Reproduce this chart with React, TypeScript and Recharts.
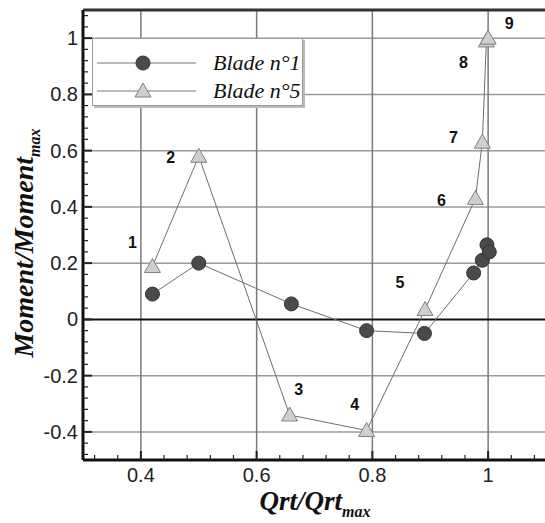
import { ScatterChart, Scatter, XAxis, YAxis, ReferenceLine } from "recharts";

// Qrt/Qrt_max and normalised moment
const qrtBlade1 = [0.42, 0.5, 0.66, 0.79, 0.89, 0.975, 0.99, 0.998, 1.002];
const momentBlade1 = [0.09, 0.2, 0.055, -0.04, -0.05, 0.165, 0.21, 0.265, 0.24];
const qrtBlade5 = [0.42, 0.5, 0.657, 0.79, 0.891, 0.978, 0.99, 0.997, 1.0];
const momentBlade5 = [0.188, 0.58, -0.34, -0.395, 0.035, 0.43, 0.63, 0.99, 1.0];
const pointNames = ["1", "2", "3", "4", "5", "6", "7", "8", "9"];

const xMajor = [0.4, 0.6, 0.8, 1];
const yMajor = [-0.4, -0.2, 0, 0.2, 0.4, 0.6, 0.8, 1];
const xMinor = Array.from({ length: 20 }, (_, i) => +(0.32 + i * 0.04).toFixed(2));
const yMinor = Array.from({ length: 40 }, (_, i) => +(-0.48 + i * 0.04).toFixed(2));

// pixel offsets of the point numbers from their triangles
const nameOffsets = [[-20, -24], [-28, 1], [9, -26], [-12, -26], [-25, -27], [-34, 2], [-29, -5], [-23, 22], [21, -15]];

const blade1 = qrtBlade1.map((x, i) => ({ x, y: momentBlade1[i] }));
const blade5 = qrtBlade5.map((x, i) => ({ x, y: momentBlade5[i], n: i }));

const SANS = "'Liberation Sans', Arial, sans-serif";
const SERIF = "'Liberation Serif', 'Times New Roman', serif";

const isMajor = (v: number) => Math.abs(v * 5 - Math.round(v * 5)) < 1e-6;

const XTick = ({ x, y, payload }: any) => {
  const major = isMajor(payload.value);
  return (
    <g>
      <line x1={x} x2={x} y1={y} y2={y - (major ? 9 : 5)} stroke="#222" strokeWidth={major ? 2 : 1.2} />
      {major && (
        <text x={x} y={y + 22} textAnchor="middle" fontSize={20} fontFamily={SANS} fill="#222">
          {String(payload.value)}
        </text>
      )}
    </g>
  );
};

const YTick = ({ x, y, payload }: any) => {
  const major = isMajor(payload.value);
  return (
    <g>
      <line x1={x} x2={x + (major ? 9 : 5)} y1={y} y2={y} stroke="#222" strokeWidth={major ? 2 : 1.2} />
      {major && (
        <text x={x - 5} y={y + 7} textAnchor="end" fontSize={20} fontFamily={SANS} fill="#222">
          {String(payload.value)}
        </text>
      )}
    </g>
  );
};

const Dot = ({ cx, cy }: any) => (
  <circle cx={cx} cy={cy} r={7} fill="#4a4a4a" stroke="#333" strokeWidth={1} />
);

const Tri = ({ cx, cy, payload }: any) => {
  const off = nameOffsets[payload.n];
  return (
    <g>
      <path d={`M${cx},${cy - 8} L${cx + 8},${cy + 6} L${cx - 8},${cy + 6} Z`} fill="#cfcfcf" stroke="#808080" strokeWidth={1} />
      <text x={cx + off[0]} y={cy + off[1]} textAnchor="middle" dominantBaseline="central" fontSize={16} fontWeight={700} fontFamily={SANS} fill="#111">
        {pointNames[payload.n]}
      </text>
    </g>
  );
};

function LegendBox() {
  const rows = [
    { name: "Blade n°1", icon: <circle cx={50} cy={12} r={7} fill="#4a4a4a" stroke="#333" /> },
    { name: "Blade n°5", icon: <path d="M50,4 L58,18 L42,18 Z" fill="#cfcfcf" stroke="#808080" /> },
  ];
  return (
    <div style={{ position: "absolute", left: 92, top: 38, width: 209, height: 66, background: "#fff", border: "1px solid #999", boxShadow: "2px 2px 0 #bbb" }}>
      {rows.map((r, i) => (
        <div key={i} style={{ position: "absolute", left: 0, top: 12 + i * 28, height: 24, display: "flex", alignItems: "center" }}>
          <svg width={110} height={24}>
            <line x1={4} x2={103} y1={12} y2={12} stroke="#777" strokeWidth={1} />
            {r.icon}
          </svg>
          <span style={{ fontFamily: SERIF, fontStyle: "italic", fontSize: 22, marginLeft: 10, color: "#111" }}>{r.name}</span>
        </div>
      ))}
    </div>
  );
}

export default function App() {
  return (
    <div style={{ position: "absolute", left: 0, top: 0, width: 545, height: 523, overflow: "hidden", background: "#fff" }}>
      <ScatterChart width={548} height={523} margin={{ top: 10, right: 2, bottom: 0, left: 0 }}>
        <XAxis type="number" dataKey="x" domain={[0.3, 1.1]} ticks={xMinor} interval={0} tickSize={0} tickMargin={0}
          height={63} tick={<XTick />} tickLine={false} axisLine={{ stroke: "#111", strokeWidth: 3 }} allowDataOverflow />
        <YAxis type="number" dataKey="y" domain={[-0.5, 1.1]} ticks={yMinor} interval={0} tickSize={0} tickMargin={0}
          width={83} tick={<YTick />} tickLine={false} axisLine={{ stroke: "#111", strokeWidth: 3 }} allowDataOverflow />
        {yMajor.filter((v) => v !== 0).map((v) => (
          <ReferenceLine key={"h" + v} y={v} stroke="#9a9a9a" strokeWidth={1.5} />
        ))}
        {xMajor.map((v) => (
          <ReferenceLine key={"v" + v} x={v} stroke="#7a7a7a" strokeWidth={1.5} />
        ))}
        <ReferenceLine y={0} stroke="#111" strokeWidth={2} />
        <ReferenceLine y={1.1} stroke="#333" strokeWidth={3} />
        <Scatter data={blade1} line={{ stroke: "#6e6e6e", strokeWidth: 1 }} lineType="joint" shape={<Dot />} isAnimationActive={false} />
        <Scatter data={blade5} line={{ stroke: "#6e6e6e", strokeWidth: 1 }} lineType="joint" shape={<Tri />} isAnimationActive={false} />
      </ScatterChart>
      <svg width={545} height={523} style={{ position: "absolute", left: 0, top: 0, pointerEvents: "none" }}>
        <text transform="translate(33,243) rotate(-90)" textAnchor="middle" fontFamily={SERIF} fontStyle="italic" fontWeight={700} fontSize={28} fill="#111">
          Moment/Moment<tspan fontSize={16} dy={7}>max</tspan>
        </text>
        <text x={315} y={510} textAnchor="middle" fontFamily={SERIF} fontStyle="italic" fontWeight={700} fontSize={27} fill="#111">
          Qrt/Qrt<tspan fontSize={16} dy={7}>max</tspan>
        </text>
      </svg>
      <LegendBox />
    </div>
  );
}
